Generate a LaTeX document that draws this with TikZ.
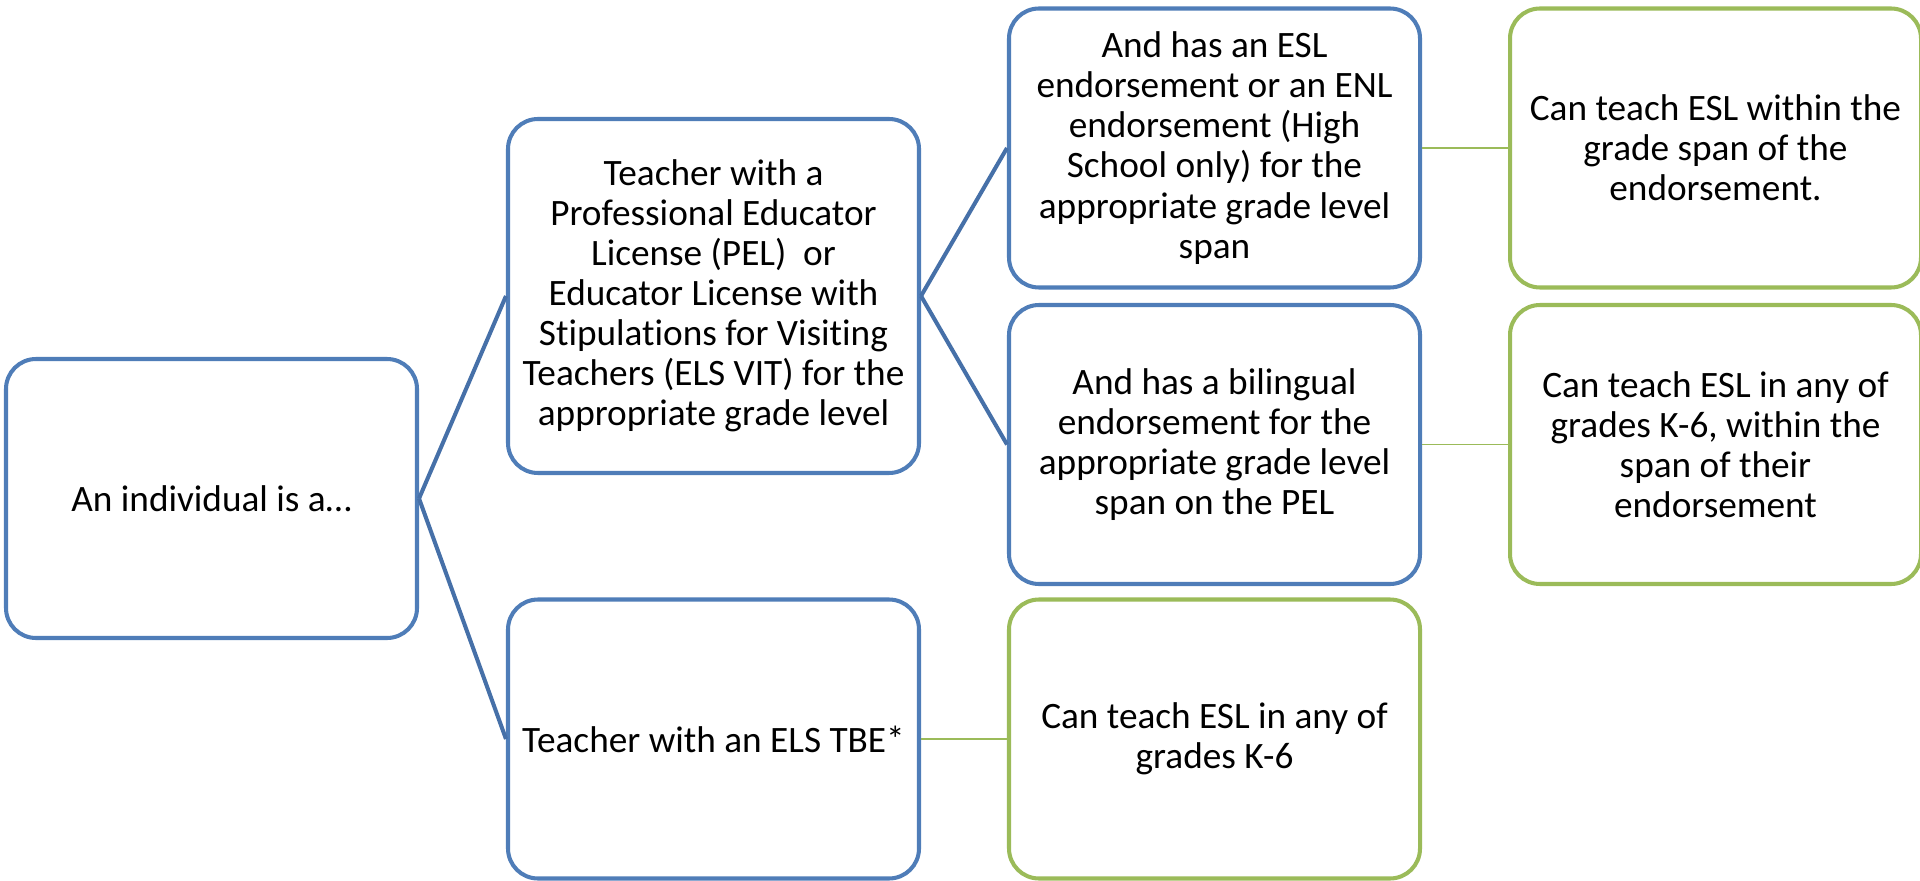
\documentclass[tikz,border=0pt]{standalone}
\usepackage{fontspec}
\setmainfont{Carlito}[Ligatures=NoCommon]
\usetikzlibrary{positioning}
\definecolor{boxblue}{HTML}{4F7DB8}
\definecolor{lineblue}{HTML}{4670A8}
\definecolor{boxgreen}{HTML}{9BBB59}

\begin{document}
\begin{tikzpicture}[
    card/.style={rounded corners=0.3cm, line width=1.15pt, fill=white,
        minimum width=4.11cm, minimum height=2.79cm, align=center,
        font=\fontsize{10.6}{11.4}\selectfont},
    bluecard/.style={card, draw=boxblue},
    greencard/.style={card, draw=boxgreen},
    bluelink/.style={draw=lineblue, line width=1.15pt},
    greenlink/.style={draw=boxgreen, line width=0.55pt}]
    \useasboundingbox (0,0) rectangle (19.2,8.8);
    % Draw the first two columns
    \node[bluecard] (root) at (2.115,3.815) {An individual is a…};
    \node[bluecard, minimum height=3.54cm] (pel) at (7.135,5.84) {Teacher with a\\Professional Educator\\License (PEL)~ or\\Educator License with\\Stipulations for Visiting\\Teachers (ELS VIT) for the\\appropriate grade level};
    \node[bluecard] (tbe) at (7.135,1.41) {Teacher with an ELS TBE*};
    % Endorsements
    \node[bluecard] (esl) at (12.145,7.32) {And has an ESL\\endorsement or an ENL\\endorsement (High\\School only) for the\\appropriate grade level\\span};
    \node[bluecard] (bil) at (12.145,4.355) {And has a bilingual\\endorsement for the\\appropriate grade level\\span on the PEL};
    \node[greencard] (anyk) at (12.145,1.41) {Can teach ESL in any of\\grades K-6};
    % What they can teach
    \node[greencard] (span) at (17.155,7.32) {Can teach ESL within the\\grade span of the\\endorsement.};
    \node[greencard] (spank) at (17.155,4.355) {Can teach ESL in any of\\grades K-6, within the\\span of their\\endorsement};
    % Draw connectors
    \draw[bluelink] (root.east) -- (pel.west);
    \draw[bluelink] (root.east) -- (tbe.west);
    \draw[bluelink] (pel.east) -- (esl.west);
    \draw[bluelink] (pel.east) -- (bil.west);
    \draw[greenlink] (esl.east) -- (span.west);
    \draw[greenlink] (bil.east) -- (spank.west);
    \draw[greenlink] (tbe.east) -- (anyk.west);
\end{tikzpicture}
\end{document}
